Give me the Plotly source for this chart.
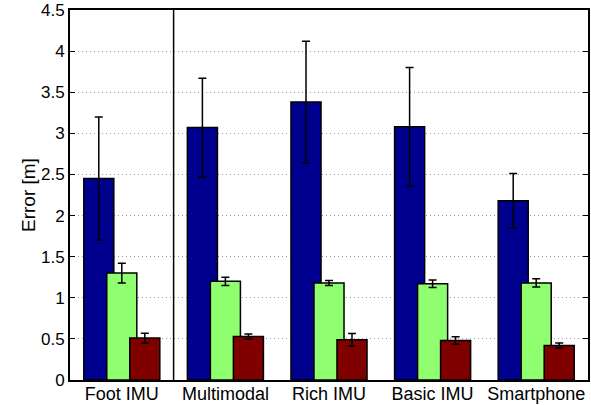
import plotly.graph_objects as go

categories = ["Foot IMU", "Multimodal", "Rich IMU", "Basic IMU", "Smartphone"]
series_names = ["Series 1", "Series 2", "Series 3"]
blue_vals = [2.45, 3.07, 3.38, 3.08, 2.18]
blue_err = [0.75, 0.60, 0.74, 0.72, 0.33]
green_vals = [1.30, 1.20, 1.18, 1.17, 1.18]
green_err = [0.12, 0.05, 0.03, 0.045, 0.05]
red_vals = [0.51, 0.53, 0.49, 0.48, 0.42]
red_err = [0.06, 0.03, 0.077, 0.045, 0.03]
colors = ["#00008F", "#8FFF70", "#800000"]
y_ticks = [0, 0.5, 1, 1.5, 2, 2.5, 3, 3.5, 4, 4.5]
y_ticktext = ["0", "0.5", "1", "1.5", "2", "2.5", "3", "3.5", "4", "4.5"]

FONT = "Liberation Sans, Arial, sans-serif"
bar_w = 0.29
shift = 0.222
pos = list(range(1, len(categories) + 1))

fig = go.Figure()
for k, (vals, errs) in enumerate([(blue_vals, blue_err), (green_vals, green_err), (red_vals, red_err)]):
    off = (k - 1) * shift
    fig.add_trace(go.Bar(
        x=[p + off for p in pos], y=vals, width=bar_w, name=series_names[k],
        marker=dict(color=colors[k], line=dict(color="black", width=1.5)),
        error_y=dict(type="data", array=errs, visible=True, color="black", thickness=1.5, width=4),
        showlegend=False,
    ))

fig.add_shape(type="line", xref="x", yref="paper", x0=1.5, x1=1.5, y0=0, y1=1,
              line=dict(color="black", width=1.5))

fig.add_annotation(text="Error [m]", textangle=-90, xref="paper", yref="paper",
                   x=(28 - 70) / 518, y=0.5, xanchor="center", yanchor="middle",
                   showarrow=False, font=dict(size=19))

fig.update_layout(
    width=591, height=405,
    margin=dict(l=70, r=3, t=10, b=25),
    barmode="overlay",
    plot_bgcolor="white", paper_bgcolor="white",
    font=dict(family=FONT, size=17, color="black"),
)
fig.update_xaxes(
    range=[0.5, 5.5], tickvals=pos, ticktext=categories, automargin=False,
    showline=True, linecolor="black", linewidth=2, mirror=True,
    showgrid=False, zeroline=False, ticks="", tickfont=dict(size=18),
    ticklabelstandoff=-4,
)
fig.update_yaxes(
    range=[0, 4.5], tickvals=y_ticks, ticktext=y_ticktext, automargin=False,
    showline=True, linecolor="black", linewidth=2, mirror="allticks",
    ticks="inside", ticklen=5, tickcolor="black", ticklabelstandoff=0,
    showgrid=True, gridcolor="#999999", griddash="1px,3px", gridwidth=1,
    zeroline=False, tickfont=dict(size=17),
)

fig.write_html("out.html", config={"displayModeBar": False},
               post_script="document.body.style.margin='0';document.body.style.overflow='hidden';")
